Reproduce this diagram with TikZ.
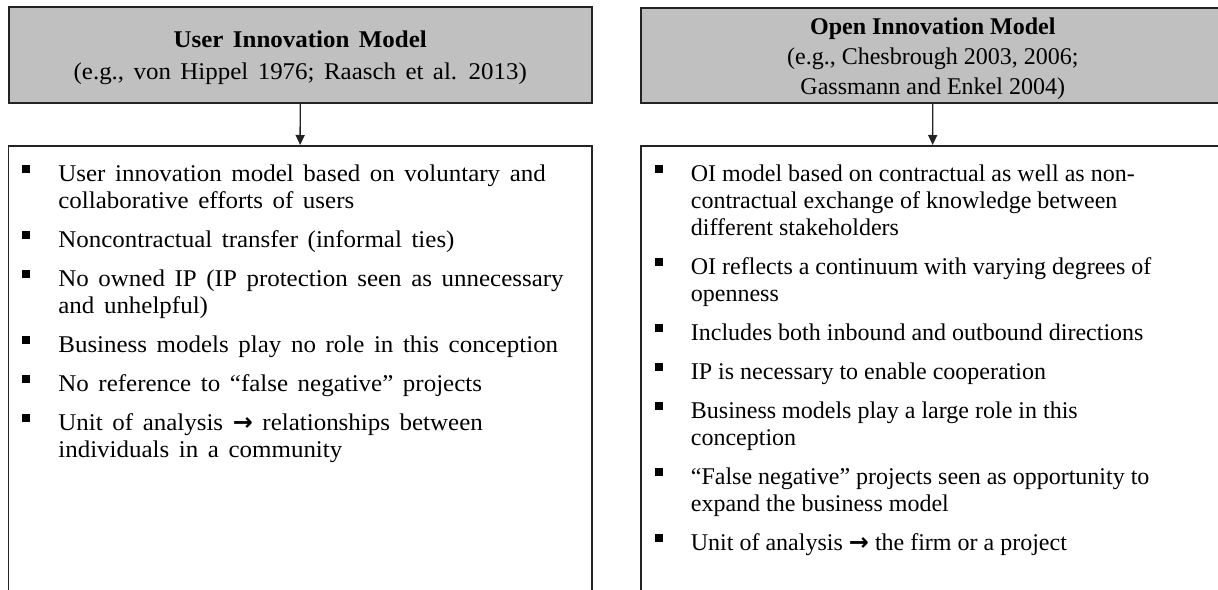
\documentclass[tikz,border=0pt]{standalone}
\usepackage{fontspec}
\setmainfont{Liberation Serif}
\newfontfamily\leftfont[FakeStretch=1.04]{Liberation Serif}
\newfontfamily\arrowfont{DejaVu Sans}
\usetikzlibrary{arrows.meta}
\definecolor{headgray}{RGB}{192,192,192}
\definecolor{edgecol}{RGB}{35,35,35}
\newcommand{\bul}{\rule[4pt]{3.8pt}{3.8pt}}
\newcommand{\rarr}{{\arrowfont\bfseries →}}
\newcommand{\itemlines}[1]{\begin{tabular}[t]{@{}p{18pt}@{}l@{}}\bul & #1\end{tabular}}
\newcommand{\lheadfont}{\leftfont\fontsize{12}{16}\selectfont\spaceskip 4.7pt\relax}
\newcommand{\rheadfont}{\fontsize{12}{15}\selectfont}
\newcommand{\litemfont}{\leftfont\fontsize{12}{13.5}\selectfont\spaceskip 4.8pt\relax}
\newcommand{\ritemfont}{\fontsize{12}{13.5}\selectfont}
\tikzset{
  headbox/.style={draw=edgecol, line width=1pt, fill=headgray, minimum width=291.75pt,
    minimum height=47.75pt, anchor=north west, inner sep=0pt},
  headtext/.style={align=center, inner sep=0pt, yshift=-1.5pt},
  bodybox/.style={draw=edgecol, line width=0.9pt, minimum width=291.75pt,
    minimum height=247.5pt, anchor=north west, inner sep=0pt},
  litem/.style={anchor=base west, inner sep=0pt, font=\litemfont},
  ritem/.style={anchor=base west, inner sep=0pt, font=\ritemfont},
  link/.style={draw=edgecol, line width=0.7pt, -{Triangle[length=5pt,width=4.5pt]}},
}
\begin{document}
\begin{tikzpicture}[x=0.5pt,y=-0.5pt]
\useasboundingbox (0,0) rectangle (1218,589);
\begin{scope}
\clip (0,0) rectangle (1218,589);
\node[headbox] (uhead) at (7.5,6) {};
\node[headbox] (ohead) at (640,6.5) {};
\node[headtext,font=\lheadfont] (uheadtxt) at (uhead.center) {\textbf{User Innovation Model}\\(e.g., von Hippel 1976; Raasch et al. 2013)};
\node[headtext,font=\rheadfont] (oheadtxt) at (ohead.center) {\textbf{Open Innovation Model}\\(e.g., Chesbrough 2003, 2006;\\Gassmann and Enkel 2004)};
\node[bodybox] (ubox) at (7.5,145) {};
\node[bodybox] (obox) at (640,145) {};
\draw[link] (uhead.south) -- (ubox.north);
\draw[link] (ohead.south) -- (obox.north);

\node[litem] (u1) at (22,181) {\itemlines{User innovation model based on voluntary and\\ & collaborative efforts of users}};
\node[litem] (u2) at (22,247) {\itemlines{Noncontractual transfer (informal ties)}};
\node[litem] (u3) at (22,286) {\itemlines{No owned IP (IP protection seen as unnecessary\\ & and unhelpful)}};
\node[litem] (u4) at (22,352) {\itemlines{Business models play no role in this conception}};
\node[litem] (u5) at (22,391) {\itemlines{No reference to “false negative” projects}};
\node[litem] (u6) at (22,430) {\itemlines{Unit of analysis \rarr{} relationships between\\ & individuals in a community}};

\node[ritem] (o1) at (654.5,181) {\itemlines{OI model based on contractual as well as non-\\ & contractual exchange of knowledge between\\ & different stakeholders}};
\node[ritem] (o2) at (654.5,274) {\itemlines{OI reflects a continuum with varying degrees of\\ & openness}};
\node[ritem] (o3) at (654.5,340) {\itemlines{Includes both inbound and outbound directions}};
\node[ritem] (o4) at (654.5,379) {\itemlines{IP is necessary to enable cooperation}};
\node[ritem] (o5) at (654.5,418) {\itemlines{Business models play a large role in this\\ & conception}};
\node[ritem] (o6) at (654.5,484) {\itemlines{“False negative” projects seen as opportunity to\\ & expand the business model}};
\node[ritem] (o7) at (654.5,550) {\itemlines{Unit of analysis \rarr{} the firm or a project}};
\end{scope}
\end{tikzpicture}
\end{document}
